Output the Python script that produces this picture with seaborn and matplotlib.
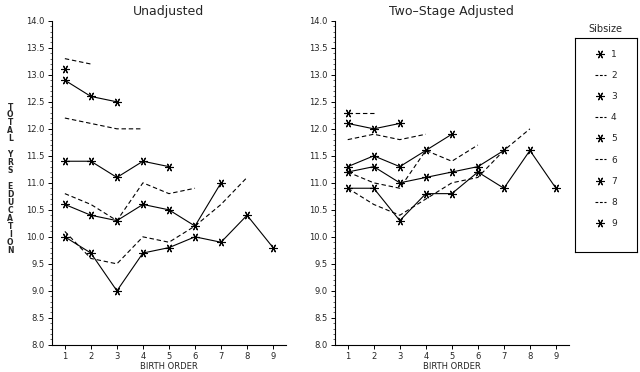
import numpy as np
import pandas as pd
import matplotlib
matplotlib.use("Agg")
import matplotlib.pyplot as plt
from matplotlib.lines import Line2D
from matplotlib.ticker import MultipleLocator, FormatStrFormatter
import seaborn as sns

sns.set_style("white")
plt.rcParams["font.family"] = ["DejaVu Sans"]

# mean total years of education by birth order, one list per sibship size
unadj_1 = [13.1]
unadj_2 = [13.3, 13.2]
unadj_3 = [12.9, 12.6, 12.5]
unadj_4 = [12.2, 12.1, 12.0, 12.0]
unadj_5 = [11.4, 11.4, 11.1, 11.4, 11.3]
unadj_6 = [10.8, 10.6, 10.3, 11.0, 10.8, 10.9]
unadj_7 = [10.6, 10.4, 10.3, 10.6, 10.5, 10.2, 11.0]
unadj_8 = [10.1, 9.6, 9.5, 10.0, 9.9, 10.2, 10.6, 11.1]
unadj_9 = [10.0, 9.7, 9.0, 9.7, 9.8, 10.0, 9.9, 10.4, 9.8]

adj_1 = [12.3]
adj_2 = [12.3, 12.3]
adj_3 = [12.1, 12.0, 12.1]
adj_4 = [11.8, 11.9, 11.8, 11.9]
adj_5 = [11.3, 11.5, 11.3, 11.6, 11.9]
adj_6 = [11.2, 11.0, 10.9, 11.6, 11.4, 11.7]
adj_7 = [11.2, 11.3, 11.0, 11.1, 11.2, 11.3, 11.6]
adj_8 = [10.9, 10.6, 10.4, 10.7, 11.0, 11.1, 11.6, 12.0]
adj_9 = [10.9, 10.9, 10.3, 10.8, 10.8, 11.2, 10.9, 11.6, 10.9]

unadjusted = [unadj_1, unadj_2, unadj_3, unadj_4, unadj_5, unadj_6, unadj_7, unadj_8, unadj_9]
adjusted = [adj_1, adj_2, adj_3, adj_4, adj_5, adj_6, adj_7, adj_8, adj_9]
sibsizes = list(range(1, 10))

STAR = (6, 2, 90)


def long_form(series):
    rows = []
    for s, vals in zip(sibsizes, series):
        for bo, v in enumerate(vals, start=1):
            rows.append({"sibsize": s, "birth_order": bo, "educ": v})
    return pd.DataFrame(rows)


def draw_panel(ax, df, title):
    for s, grp in df.groupby("sibsize"):
        if s % 2 == 1:
            sns.lineplot(data=grp, x="birth_order", y="educ", ax=ax, color="black",
                         lw=0.8, marker=STAR, markersize=6, markeredgewidth=0.8,
                         markeredgecolor="black", legend=False)
        else:
            sns.lineplot(data=grp, x="birth_order", y="educ", ax=ax, color="black",
                         lw=0.8, legend=False)
            ax.lines[-1].set_dashes((4, 2.5))
    ax.set_xlim(0.5, 9.5)
    ax.set_ylim(8.0, 14.0)
    ax.set_xticks(range(1, 10))
    ax.yaxis.set_major_locator(MultipleLocator(0.5))
    ax.yaxis.set_minor_locator(MultipleLocator(0.1))
    ax.yaxis.set_major_formatter(FormatStrFormatter("%.1f"))
    ax.tick_params(axis="both", which="major", direction="out", length=3, width=0.7,
                   labelsize=6, color="black", left=True, bottom=True, pad=2)
    ax.tick_params(axis="y", which="minor", direction="out", length=1.5, width=0.5, left=True)
    for side in ("top", "right"):
        ax.spines[side].set_visible(False)
    for side in ("left", "bottom"):
        ax.spines[side].set_color("black")
        ax.spines[side].set_linewidth(0.8)
    ax.set_xlabel("BIRTH ORDER", fontsize=6, labelpad=1)
    ax.set_ylabel("")
    ax.set_title(title, fontsize=9, pad=4)


fig = plt.figure(figsize=(6.4, 3.72), dpi=100)
ax1 = fig.add_axes([0.081, 0.073, 0.366, 0.871])
ax2 = fig.add_axes([0.523, 0.073, 0.366, 0.871])

draw_panel(ax1, long_form(unadjusted), "Unadjusted")
draw_panel(ax2, long_form(adjusted), "Two\u2013Stage Adjusted")

fig.text(0.016, 0.52, "\n".join("TOTAL") + "\n\n" + "\n".join("YRS") + "\n\n" + "\n".join("EDUCATION"),
         ha="center", va="center", fontsize=5.5, fontweight="bold", linespacing=0.85)

# legend box
lax = fig.add_axes([0.898, 0.323, 0.097, 0.575])
lax.set_xticks([])
lax.set_yticks([])
for sp in lax.spines.values():
    sp.set_visible(True)
    sp.set_color("black")
    sp.set_linewidth(0.8)
handles = []
for s in sibsizes:
    if s % 2 == 1:
        handles.append(Line2D([], [], color="black", lw=0, marker=STAR, markersize=6,
                              markeredgewidth=0.8))
    else:
        handles.append(Line2D([], [], color="black", lw=0.8, dashes=(2.5, 1.5)))
lax.legend(handles, [str(s) for s in sibsizes], loc="upper center", frameon=False,
           fontsize=6.5, handlelength=1.2, handletextpad=0.6, labelspacing=1.35,
           borderaxespad=0.9)
fig.text(0.946, 0.923, "Sibsize", ha="center", va="center", fontsize=7)

fig.savefig("out.png", dpi=100, facecolor="white")
